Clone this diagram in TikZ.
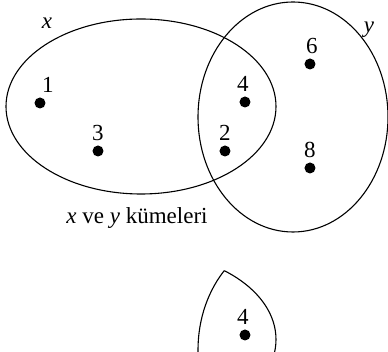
\documentclass[tikz,border=0pt]{standalone}
\usepackage{fontspec}
\setmainfont{Liberation Serif}
\usetikzlibrary{positioning}

\begin{document}
\begin{tikzpicture}[
  x=0.5pt, y=-0.5pt,
  dot/.style = {circle, fill, inner sep=0pt, minimum size=5.5pt},
  setline/.style = {line width=0.55pt},
  txt/.style = {font=\fontsize{11.5}{13}\selectfont, inner sep=1pt},
  every label/.style = {txt},
  label distance=1pt
]
  \useasboundingbox (0,0) rectangle (388,352);

  % Sets x and y
  \coordinate (cx) at (141,106.5);
  \coordinate (cy) at (293,117);
  \draw[setline] (cx) ellipse [x radius=135, y radius=87.5];
  \draw[setline] (cy) ellipse [x radius=95, y radius=115];

  % Set names
  \node[txt] (xname) at (47,23) {\textit{x}};
  \node[txt] (yname) at (369,30) {\textit{y}};

  % Elements
  \node[dot, label={[xshift=4pt]above:1}] (e1) at (40,103) {};
  \node[dot, label=above:3] (e3) at (98,151) {};
  \node[dot, label={[xshift=-1pt]above:4}] (e4) at (245,102) {};
  \node[dot, label=above:2] (e2) at (225,151) {};
  \node[dot, label={[xshift=1pt]above:6}] (e6) at (310,64) {};
  \node[dot, label=above:8] (e8) at (310,168) {};

  % Caption
  \node[txt] (caption) at (137,218) {\textit{x} ve \textit{y} kümeleri};

  % Intersection, moved down
  \begin{scope}[yshift=-116.5pt]
    \clip (0,-233) rectangle (388,119);
    \begin{scope}
      \clip (141,106.5) ellipse [x radius=135, y radius=87.5];
      \draw[setline] (293,117) ellipse [x radius=95, y radius=115];
    \end{scope}
    \begin{scope}
      \clip (293,117) ellipse [x radius=95, y radius=115];
      \draw[setline] (141,106.5) ellipse [x radius=135, y radius=87.5];
    \end{scope}
    \node[dot, label={[xshift=-1pt]above:4}] (e4b) at (245,102) {};
  \end{scope}
\end{tikzpicture}
\end{document}
